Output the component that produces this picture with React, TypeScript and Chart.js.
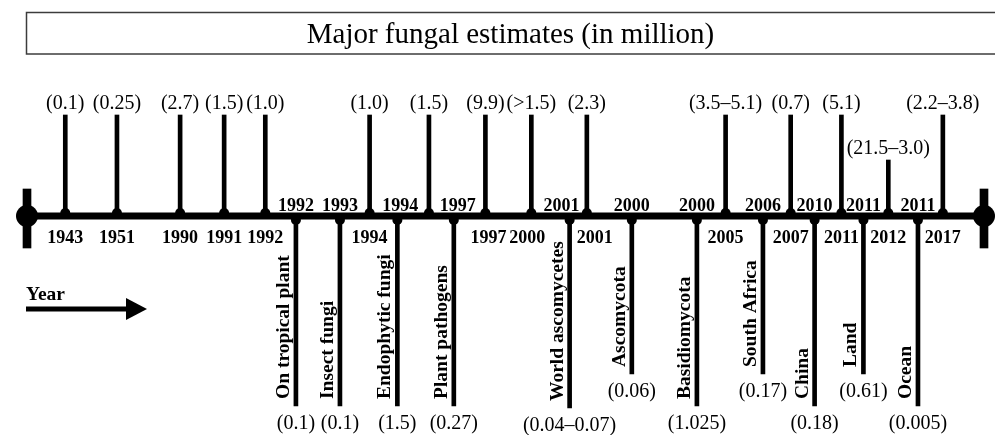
import React, { useEffect, useRef } from 'react';
import { Chart, registerables } from 'chart.js';

Chart.register(...registerables);

// ---------- DATA ----------
const TITLE = 'Major fungal estimates (in million)';
const AXIS_LABEL = 'Year';

// timeline position (0 = left end, 100 = right end)
const upPos = [4.0, 9.4, 16.0, 20.6, 24.9, 35.8, 42.0, 47.9, 52.7, 58.5, 73.0, 79.8, 85.1, 90.0, 95.7];
const upYears = ['1943', '1951', '1990', '1991', '1992', '1994', '', '1997', '2000', '2001', '2005', '2007', '2011', '2012', '2017'];
const upValues = ['(0.1)', '(0.25)', '(2.7)', '(1.5)', '(1.0)', '(1.0)', '(1.5)', '(9.9)', '(>1.5)', '(2.3)', '(3.5–5.1)', '(0.7)', '(5.1)', '(21.5–3.0)', '(2.2–3.8)'];
const upLen = [101, 101, 101, 101, 101, 101, 101, 101, 101, 101, 101, 101, 101, 56, 101];

const downPos = [28.1, 32.7, 38.7, 44.6, 56.7, 63.2, 70.0, 76.9, 82.3, 87.4, 93.1];
const downYears = ['1992', '1993', '1994', '1997', '2001', '2000', '2000', '2006', '2010', '2011', '2011'];
const downNames = ['On tropical plant', 'Insect fungi', 'Endophytic fungi', 'Plant pathogens', 'World ascomycetes', 'Ascomycota', 'Basidiomycota', 'South Africa', 'China', 'Land', 'Ocean'];
const downValues = ['(0.1)', '(0.1)', '(1.5)', '(0.27)', '(0.04–0.07)', '(0.06)', '(1.025)', '(0.17)', '(0.18)', '(0.61)', '(0.005)'];
const downLen = [-190, -190, -190, -190, -192, -158, -190, -158, -190, -158, -190];

const endPos = [0, 100];

// small label nudges (px) to keep year labels clear of neighbouring stems
const upYearNudge: Record<number, number> = { 7: 3, 8: -4, 9: 8 };
const downYearNudge: Record<number, number> = { 2: 3, 3: 4, 4: -8 };

const SERIF = '"Liberation Serif", "Times New Roman", serif';

export default function App() {
  const ref = useRef<HTMLCanvasElement>(null);

  useEffect(() => {
    document.body.style.margin = '0';
    const canvas = ref.current;
    if (!canvas) return;

    const labelsPlugin = {
      id: 'timelineLabels',
      afterDatasetsDraw(chart: any) {
        const ctx: CanvasRenderingContext2D = chart.ctx;
        const xs = chart.scales.x;
        const ys = chart.scales.y;
        ctx.save();
        ctx.fillStyle = '#000';

        // title box
        ctx.strokeStyle = '#3c3c3c';
        ctx.lineWidth = 1.5;
        ctx.strokeRect(26.5, 12.5, 980, 41.5);
        ctx.font = `29px ${SERIF}`;
        ctx.textAlign = 'center';
        ctx.textBaseline = 'alphabetic';
        ctx.fillText(TITLE, 510.5, 43);

        // up stems: values on top, years under axis
        upPos.forEach((p, i) => {
          const x = xs.getPixelForValue(p);
          const top = ys.getPixelForValue(upLen[i]);
          ctx.font = `20px ${SERIF}`;
          ctx.textAlign = 'center';
          ctx.fillText(upValues[i], x, top - 6);
          if (upYears[i]) {
            ctx.font = `bold 18px ${SERIF}`;
            ctx.fillText(upYears[i], x + (upYearNudge[i] || 0), 243);
          }
        });

        // down stems: years above axis, names rotated, values below
        downPos.forEach((p, i) => {
          const x = xs.getPixelForValue(p);
          const bottom = ys.getPixelForValue(downLen[i]);
          ctx.font = `bold 18px ${SERIF}`;
          ctx.textAlign = 'center';
          ctx.fillText(downYears[i], x + (downYearNudge[i] || 0), 211);
          ctx.font = `20px ${SERIF}`;
          ctx.fillText(downValues[i], x, bottom + 22.5);
          ctx.save();
          ctx.translate(x - 7, bottom - 7);
          ctx.rotate(-Math.PI / 2);
          ctx.font = `bold 19.5px ${SERIF}`;
          ctx.textAlign = 'left';
          ctx.fillText(downNames[i], 0, 0);
          ctx.restore();
        });

        // "Year" arrow
        ctx.font = `bold 19.5px ${SERIF}`;
        ctx.textAlign = 'left';
        ctx.fillText(AXIS_LABEL, 26, 300);
        ctx.strokeStyle = '#000';
        ctx.lineWidth = 5;
        ctx.beginPath();
        ctx.moveTo(26, 309);
        ctx.lineTo(128, 309);
        ctx.stroke();
        ctx.beginPath();
        ctx.moveTo(126, 298);
        ctx.lineTo(147, 309);
        ctx.lineTo(126, 320);
        ctx.closePath();
        ctx.fill();

        ctx.restore();
      },
    };

    const chart = new Chart(canvas, {
      type: 'bar',
      data: {
        datasets: [
          {
            type: 'line',
            data: endPos.map((p) => ({ x: p, y: 0 })),
            borderColor: '#000',
            borderWidth: 7,
            pointRadius: 0,
            clip: false,
            order: 10,
          } as any,
          {
            type: 'bar',
            data: upPos.map((p, i) => ({ x: p, y: [0, upLen[i]] })),
            backgroundColor: '#000',
            barThickness: 4,
            grouped: false,
            order: 5,
          } as any,
          {
            type: 'bar',
            data: downPos.map((p, i) => ({ x: p, y: [0, downLen[i]] })),
            backgroundColor: '#000',
            barThickness: 4,
            grouped: false,
            order: 5,
          } as any,
          {
            type: 'bar',
            data: endPos.map((p) => ({ x: p, y: [-32, 27] })),
            backgroundColor: '#000',
            barThickness: 8,
            grouped: false,
            clip: false,
            order: 4,
          } as any,
          {
            type: 'scatter',
            data: upPos.map((p) => ({ x: p, y: 3 })),
            pointRadius: 5,
            pointBackgroundColor: '#000',
            pointBorderWidth: 0,
            order: 2,
          } as any,
          {
            type: 'scatter',
            data: downPos.map((p) => ({ x: p, y: -4 })),
            pointRadius: 5,
            pointBackgroundColor: '#000',
            pointBorderWidth: 0,
            order: 2,
          } as any,
          {
            type: 'scatter',
            data: endPos.map((p) => ({ x: p, y: 0 })),
            pointRadius: 11,
            pointBackgroundColor: '#000',
            pointBorderWidth: 0,
            clip: false,
            order: 1,
          } as any,
        ],
      },
      options: {
        animation: false,
        responsive: false,
        devicePixelRatio: 1,
        layout: { padding: { top: 16, bottom: 19, left: 27, right: 11 } },
        plugins: {
          legend: { display: false },
          tooltip: { enabled: false },
        },
        scales: {
          x: { type: 'linear', min: 0, max: 100, display: false, offset: false },
          y: { type: 'linear', min: -200, max: 200, display: false },
        },
      } as any,
      plugins: [labelsPlugin],
    });

    return () => chart.destroy();
  }, []);

  return (
    <div style={{ width: 995, height: 435, background: '#fff' }}>
      <canvas ref={ref} width={995} height={435} style={{ display: 'block' }} />
    </div>
  );
}
